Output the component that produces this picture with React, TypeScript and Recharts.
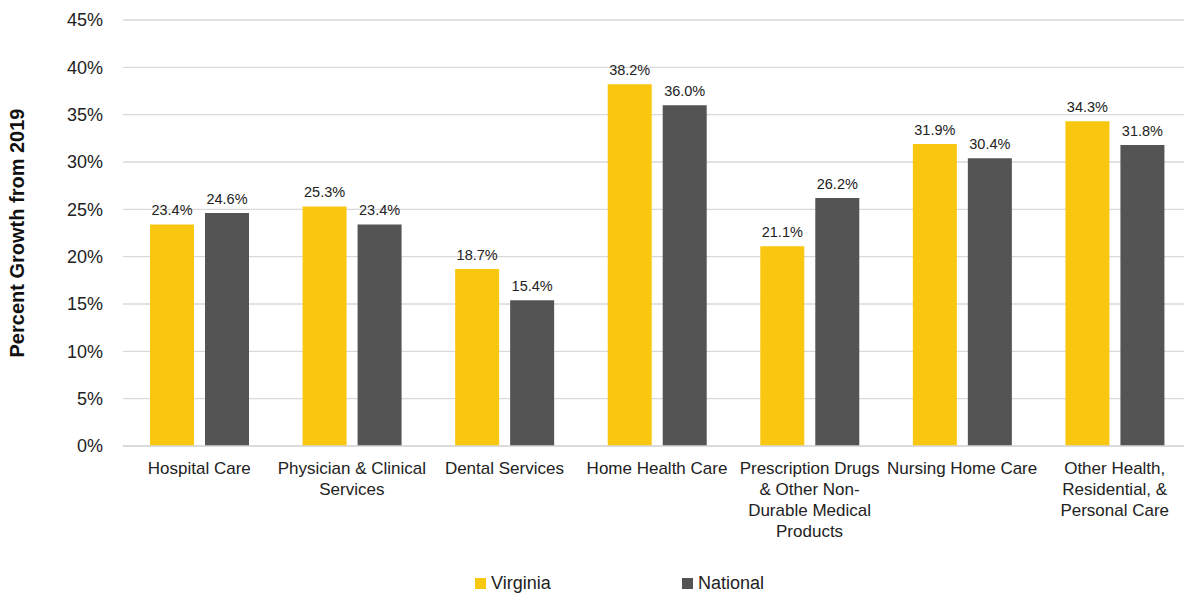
import {
  BarChart,
  Bar,
  XAxis,
  YAxis,
  CartesianGrid,
  Legend,
  LabelList,
  Label,
} from "recharts";

const categories = [
  "Hospital Care",
  "Physician & Clinical\nServices",
  "Dental Services",
  "Home Health Care",
  "Prescription Drugs\n& Other Non-\nDurable Medical\nProducts",
  "Nursing Home Care",
  "Other Health,\nResidential, &\nPersonal Care",
];
const virginia = [23.4, 25.3, 18.7, 38.2, 21.1, 31.9, 34.3];
const national = [24.6, 23.4, 15.4, 36.0, 26.2, 30.4, 31.8];
const yTicks = [0, 5, 10, 15, 20, 25, 30, 35, 40, 45];

const data = categories.map((name, i) => ({
  name,
  virginia: virginia[i],
  national: national[i],
}));

const FONT = "'Liberation Sans', Arial, sans-serif";
const YELLOW = "#F9C710";
const GREY = "#545454";

function CategoryTick({ x, y, payload }: any) {
  const lines = String(payload.value).split("\n");
  return (
    <text x={x} y={y} textAnchor="middle" fontSize={17} fill="#222" fontFamily={FONT}>
      {lines.map((l: string, i: number) => (
        <tspan key={i} x={x} dy={i === 0 ? 20 : 21}>
          {l}
        </tspan>
      ))}
    </text>
  );
}

function LegendContent() {
  const items = [
    { label: "Virginia", color: YELLOW, left: 475 },
    { label: "National", color: GREY, left: 682 },
  ];
  return (
    <div style={{ position: "relative", height: 21, fontFamily: FONT }}>
      {items.map((it) => (
        <div
          key={it.label}
          style={{
            position: "absolute",
            left: it.left,
            top: 0,
            display: "flex",
            alignItems: "center",
            gap: 5,
            fontSize: 18,
            lineHeight: "20px",
            color: "#222",
          }}
        >
          <span style={{ width: 11, height: 11, background: it.color, display: "inline-block" }} />
          {it.label}
        </div>
      ))}
    </div>
  );
}

export default function App() {
  return (
    <div
      style={{
        position: "absolute",
        left: 0,
        top: 0,
        width: 1184,
        height: 594,
        overflow: "hidden",
        background: "#fff",
      }}
    >
      <BarChart
        width={1191}
        height={594}
        data={data}
        margin={{ top: 20, right: 0, bottom: 0, left: 0 }}
        barCategoryGap={27}
        barGap={11}
      >
        <CartesianGrid vertical={false} stroke="#d9d9d9" strokeWidth={1.3} />
        <XAxis
          dataKey="name"
          interval={0}
          tickLine={false}
          axisLine={{ stroke: "#d9d9d9", strokeWidth: 1.3 }}
          tick={<CategoryTick />}
          height={127}
        />
        <YAxis
          domain={[0, 45]}
          ticks={yTicks}
          width={123}
          tickLine={false}
          axisLine={false}
          tickSize={0}
          tickMargin={20}
          tickFormatter={(v: number) => `${v}%`}
          tick={{ fontSize: 18, fill: "#222", fontFamily: FONT }}
        >
          <Label
            value="Percent Growth from 2019"
            angle={-90}
            position="insideLeft"
            offset={17}
            style={{ fontSize: 20, fontWeight: 700, fill: "#111", fontFamily: FONT, textAnchor: "middle" }}
          />
        </YAxis>
        <Legend verticalAlign="bottom" height={21} content={<LegendContent />} />
        <Bar dataKey="virginia" name="Virginia" fill={YELLOW} isAnimationActive={false}>
          <LabelList
            dataKey="virginia"
            position="top"
            offset={9}
            formatter={(v: number) => `${v.toFixed(1)}%`}
            style={{ fontSize: 14.5, fill: "#222", fontFamily: FONT }}
          />
        </Bar>
        <Bar dataKey="national" name="National" fill={GREY} isAnimationActive={false}>
          <LabelList
            dataKey="national"
            position="top"
            offset={9}
            formatter={(v: number) => `${v.toFixed(1)}%`}
            style={{ fontSize: 14.5, fill: "#222", fontFamily: FONT }}
          />
        </Bar>
      </BarChart>
    </div>
  );
}
